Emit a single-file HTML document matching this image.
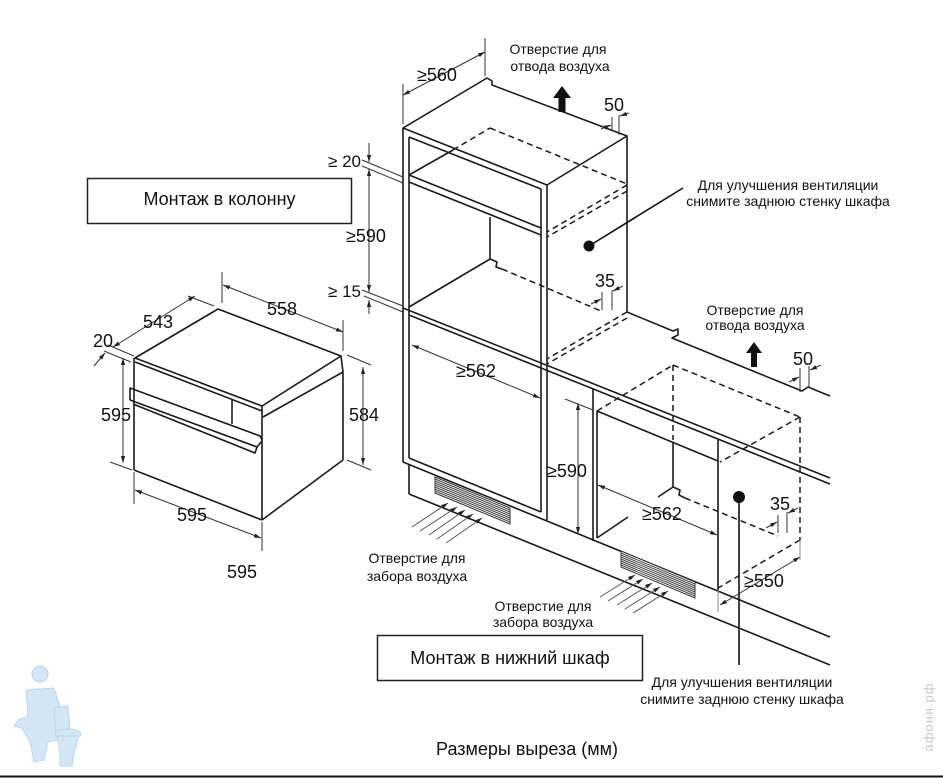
<!DOCTYPE html>
<html><head><meta charset="utf-8">
<style>
html,body{margin:0;padding:0;background:#fff;}
svg{display:block;}
text{font-family:"Liberation Sans","DejaVu Sans",sans-serif;fill:#111;}
.n{font-size:18px;}
.s{font-size:14px;}
.b{font-size:18px;}
</style></head><body>
<svg width="943" height="778" viewBox="0 0 943 778" xmlns="http://www.w3.org/2000/svg">
<defs>
<marker id="a" viewBox="0 0 10 6" refX="10" refY="3" markerWidth="7" markerHeight="4.2" markerUnits="userSpaceOnUse" orient="auto-start-reverse"><path d="M0,0 L10,3 L0,6 z" fill="#222"/></marker>
</defs>

<!-- logo -->
<g fill="#d3e6f6" stroke="#bcd7ee" stroke-width="1">
<circle cx="40" cy="674" r="8"/>
<path d="M26,690 L54,688 L62,712 L58,740 L48,742 L44,760 L34,762 L30,742 L22,728 L14,726 L18,720 L28,716 Z"/>
<path d="M54,708 L68,706 L70,732 L56,734 Z"/>
<ellipse cx="68" cy="734" rx="13" ry="5"/>
<path d="M57,736 L79,736 L74,754 L72,766 L60,766 L60,752 Z"/>
</g>

<!-- watermark -->
<text x="0" y="0" transform="translate(933,717) rotate(-90)" text-anchor="middle" style="font-size:13px;fill:#c9c9c9;letter-spacing:1px">афоня.рф</text>

<!-- bottom line -->
<line x1="0" y1="776.5" x2="943" y2="776.5" stroke="#111" stroke-width="2"/>

<!-- boxes -->
<rect x="87.5" y="178.5" width="264" height="45" fill="none" stroke="#222" stroke-width="1.5"/>
<text class="b" x="219.5" y="205" text-anchor="middle">Монтаж в колонну</text>
<rect x="377.5" y="635.5" width="265" height="45" fill="none" stroke="#222" stroke-width="1.5"/>
<text class="b" x="510" y="664" text-anchor="middle">Монтаж в нижний шкаф</text>
<text class="b" x="527" y="755" text-anchor="middle">Размеры выреза (мм)</text>

<!-- ===== OVEN ===== -->
<g fill="none" stroke="#1a1a1a" stroke-width="1.6" stroke-linejoin="round">
<polygon points="135,358 218,309 341,356 262,406"/>
<line x1="135" y1="362" x2="262" y2="411"/>
<line x1="134" y1="358" x2="134" y2="470"/>
<line x1="134" y1="470" x2="262" y2="520"/>
<line x1="262" y1="406" x2="262" y2="520"/>
<line x1="263" y1="417" x2="343" y2="372"/>
<line x1="341" y1="356" x2="343" y2="372"/>
<line x1="343" y1="372" x2="343" y2="460"/>
<line x1="262" y1="520" x2="343" y2="460"/>
<polyline points="130,400 130,388 260,436 262,440"/>
<line x1="130" y1="400" x2="257" y2="447"/>
<polyline points="133,404 255,453 257,447 262,441"/>
<line x1="232" y1="400" x2="232" y2="424"/>
</g>
<g fill="none" stroke="#333" stroke-width="1">
<line x1="113" y1="347" x2="195" y2="296" marker-start="url(#a)" marker-end="url(#a)"/>
<line x1="214" y1="306" x2="188" y2="296"/>
<line x1="108" y1="345" x2="134" y2="356"/>
<line x1="104" y1="351" x2="131" y2="362"/>
<line x1="94" y1="366" x2="105" y2="353" marker-end="url(#a)"/>
<line x1="223" y1="285" x2="343" y2="332" marker-start="url(#a)" marker-end="url(#a)"/>
<line x1="222" y1="272" x2="222" y2="303"/>
<line x1="343" y1="320" x2="343" y2="351"/>
<line x1="123" y1="358" x2="123" y2="463" marker-start="url(#a)" marker-end="url(#a)"/>
<line x1="110" y1="462" x2="132" y2="470"/>
<line x1="363" y1="367" x2="363" y2="465" marker-start="url(#a)" marker-end="url(#a)"/>
<line x1="347" y1="355" x2="371" y2="365"/>
<line x1="347" y1="460" x2="371" y2="470"/>
<line x1="135" y1="490" x2="261" y2="538" marker-start="url(#a)" marker-end="url(#a)"/>
<line x1="134" y1="472" x2="134" y2="504"/>
<line x1="262" y1="522" x2="262" y2="551"/>
</g>
<text class="n" x="158" y="328" text-anchor="middle">543</text>
<text class="n" x="282" y="315" text-anchor="middle">558</text>
<text class="n" x="103" y="347" text-anchor="middle">20</text>
<text class="n" x="116" y="421" text-anchor="middle">595</text>
<text class="n" x="364" y="421" text-anchor="middle">584</text>
<text class="n" x="192" y="521" text-anchor="middle">595</text>
<text class="n" x="242" y="578" text-anchor="middle">595</text>

<!-- ===== COLUMN + BASE solid ===== -->
<g fill="none" stroke="#1a1a1a" stroke-width="1.6" stroke-linejoin="round">
<polygon points="403,128 487,78 492,81 492,85 627,136 547,185"/>
<line x1="409" y1="137" x2="541" y2="189"/>
<line x1="403" y1="128" x2="403" y2="462"/>
<line x1="409" y1="137" x2="409" y2="458"/>
<line x1="547" y1="185" x2="547" y2="520"/>
<line x1="541" y1="189" x2="541" y2="512"/>
<line x1="409" y1="458" x2="541" y2="512"/>
<line x1="403" y1="462" x2="830" y2="637"/>
<line x1="627" y1="136" x2="627" y2="312"/>
<line x1="409" y1="175" x2="541" y2="228"/>
<line x1="409" y1="182" x2="541" y2="235"/>
<line x1="409" y1="175" x2="453" y2="150"/>
<line x1="490" y1="217" x2="490" y2="259"/>
<polyline points="409,307 490,259 497,262 496,267 502,269"/>
<line x1="403" y1="308" x2="830" y2="478"/>
<line x1="409" y1="315" x2="830" y2="484"/>
<line x1="409" y1="464" x2="409" y2="494"/>
<line x1="409" y1="494" x2="830" y2="665"/>
<polyline points="627,312 673,331 678,329 678,335 672,338 802,391 808,387 830,396"/>
<line x1="593" y1="389" x2="593" y2="541"/>
<line x1="597" y1="411" x2="597" y2="538"/>
<line x1="597" y1="411" x2="718" y2="461"/>
<line x1="718" y1="440" x2="718" y2="590"/>
<line x1="673" y1="443" x2="673" y2="487"/>
<line x1="673" y1="487" x2="658" y2="497"/>
<line x1="628" y1="517" x2="597" y2="538"/>
<polyline points="673,487 680,490 679,495 685,498"/>
</g>

<!-- dashed -->
<g fill="none" stroke="#1a1a1a" stroke-width="1.5" stroke-dasharray="6 4">
<line x1="453" y1="150" x2="490" y2="128"/>
<line x1="490" y1="128" x2="627" y2="184"/>
<line x1="627" y1="185" x2="547" y2="232"/>
<line x1="627" y1="191" x2="547" y2="237"/>
<line x1="502" y1="269" x2="601" y2="311"/>
<line x1="627" y1="312" x2="547" y2="359"/>
<line x1="627" y1="318" x2="547" y2="364"/>
<line x1="597" y1="411" x2="673" y2="365"/>
<line x1="673" y1="365" x2="800" y2="417"/>
<line x1="673" y1="365" x2="673" y2="440"/>
<line x1="800" y1="417" x2="720" y2="462"/>
<line x1="800" y1="417" x2="800" y2="540"/>
<line x1="685" y1="498" x2="778" y2="536"/>
<line x1="800" y1="540" x2="718" y2="588"/>
</g>

<!-- grilles -->
<polygon points="435,477 510,508 510,524 435,493" fill="#fff" stroke="#333" stroke-width="1"/>
<g stroke="#444" stroke-width="1">
<line x1="435" y1="479" x2="510" y2="510"/><line x1="435" y1="481" x2="510" y2="512"/>
<line x1="435" y1="483" x2="510" y2="514"/><line x1="435" y1="485" x2="510" y2="516"/>
<line x1="435" y1="487" x2="510" y2="518"/><line x1="435" y1="489" x2="510" y2="520"/>
<line x1="435" y1="491" x2="510" y2="522"/>
</g>
<polygon points="621,551 695,582 695,598 621,567" fill="#fff" stroke="#333" stroke-width="1"/>
<g stroke="#444" stroke-width="1">
<line x1="621" y1="553" x2="695" y2="584"/><line x1="621" y1="555" x2="695" y2="586"/>
<line x1="621" y1="557" x2="695" y2="588"/><line x1="621" y1="559" x2="695" y2="590"/>
<line x1="621" y1="561" x2="695" y2="592"/><line x1="621" y1="563" x2="695" y2="594"/>
<line x1="621" y1="565" x2="695" y2="596"/>
</g>

<!-- air inflow arrows -->
<g stroke="#555" stroke-width="1" fill="none">
<line x1="412" y1="527" x2="448" y2="503" marker-end="url(#a)"/>
<line x1="420" y1="531" x2="457" y2="507" marker-end="url(#a)"/>
<line x1="429" y1="535" x2="465" y2="510" marker-end="url(#a)"/>
<line x1="437" y1="539" x2="473" y2="514" marker-end="url(#a)"/>
<line x1="446" y1="543" x2="482" y2="518" marker-end="url(#a)"/>
<line x1="600" y1="597" x2="635" y2="575" marker-end="url(#a)"/>
<line x1="608" y1="601" x2="643" y2="579" marker-end="url(#a)"/>
<line x1="617" y1="605" x2="652" y2="583" marker-end="url(#a)"/>
<line x1="625" y1="609" x2="660" y2="587" marker-end="url(#a)"/>
<line x1="633" y1="613" x2="668" y2="591" marker-end="url(#a)"/>
</g>

<!-- outflow arrows -->
<polygon points="562,86 571,98 565.5,98 565.5,112 558.5,112 558.5,98 553,98" fill="#111"/>
<polygon points="754,342 762,353 757,353 757,367 751,367 751,353 746,353" fill="#111"/>

<!-- dims column/base -->
<g fill="none" stroke="#333" stroke-width="1">
<line x1="403" y1="95" x2="485" y2="52" marker-start="url(#a)" marker-end="url(#a)"/>
<line x1="403" y1="84" x2="403" y2="124"/>
<line x1="485" y1="38" x2="485" y2="76"/>
<line x1="369" y1="143" x2="369" y2="162" marker-end="url(#a)"/>
<line x1="369" y1="169" x2="369" y2="292" marker-start="url(#a)" marker-end="url(#a)"/>
<line x1="369" y1="314" x2="369" y2="300" marker-end="url(#a)"/>
<line x1="362" y1="160" x2="403" y2="177"/>
<line x1="362" y1="166" x2="403" y2="183"/>
<line x1="362" y1="290" x2="403" y2="306"/>
<line x1="364" y1="296" x2="403" y2="312"/>
<line x1="612" y1="117" x2="612" y2="131"/>
<line x1="619" y1="115" x2="619" y2="135"/>
<line x1="601" y1="129" x2="611" y2="125" marker-end="url(#a)"/>
<line x1="629" y1="113" x2="620" y2="116" marker-end="url(#a)"/>
<line x1="602" y1="292" x2="602" y2="310"/>
<line x1="612" y1="290" x2="612" y2="310"/>
<line x1="591" y1="304" x2="601" y2="299" marker-end="url(#a)"/>
<line x1="623" y1="286" x2="613" y2="291" marker-end="url(#a)"/>
<line x1="412" y1="345" x2="540" y2="398" marker-start="url(#a)" marker-end="url(#a)"/>
<line x1="578" y1="403" x2="578" y2="534" marker-start="url(#a)" marker-end="url(#a)"/>
<line x1="565" y1="399" x2="593" y2="410"/>
<line x1="598" y1="485" x2="717" y2="535" marker-start="url(#a)" marker-end="url(#a)"/>
<line x1="778" y1="515" x2="778" y2="533"/>
<line x1="787" y1="512" x2="787" y2="533"/>
<line x1="766" y1="528" x2="777" y2="522" marker-end="url(#a)"/>
<line x1="798" y1="508" x2="788" y2="513" marker-end="url(#a)"/>
<line x1="800" y1="368" x2="800" y2="392"/>
<line x1="809" y1="366" x2="809" y2="388"/>
<line x1="789" y1="382" x2="799" y2="377" marker-end="url(#a)"/>
<line x1="821" y1="365" x2="810" y2="370" marker-end="url(#a)"/>
<line x1="720" y1="605" x2="800" y2="557" marker-start="url(#a)" marker-end="url(#a)"/>
<line x1="718" y1="590" x2="718" y2="612" stroke="#888"/>
<line x1="800" y1="540" x2="800" y2="560" stroke="#888"/>
</g>

<!-- dots & leaders -->
<line x1="589" y1="246" x2="683" y2="188" stroke="#111" stroke-width="1.6"/>
<circle cx="589" cy="246" r="5.5" fill="#111"/>
<line x1="739" y1="497" x2="739" y2="665" stroke="#111" stroke-width="1.6"/>
<circle cx="739" cy="497" r="6" fill="#111"/>

<!-- labels -->
<text class="n" x="437" y="81" text-anchor="middle">≥560</text>
<text class="n" x="614" y="111" text-anchor="middle">50</text>
<text class="n" style="font-size:17px" x="361" y="167" text-anchor="end">≥ 20</text>
<text class="n" x="366" y="242" text-anchor="middle">≥590</text>
<text class="n" style="font-size:17px" x="361" y="297" text-anchor="end">≥ 15</text>
<text class="n" x="605" y="287" text-anchor="middle">35</text>
<text class="n" x="476" y="377" text-anchor="middle">≥562</text>
<text class="n" x="567" y="477" text-anchor="middle">≥590</text>
<text class="n" x="662" y="520" text-anchor="middle">≥562</text>
<text class="n" x="780" y="510" text-anchor="middle">35</text>
<text class="n" x="764" y="587" text-anchor="middle">≥550</text>
<text class="n" x="803" y="365" text-anchor="middle">50</text>

<text class="s" x="558" y="54" text-anchor="middle">Отверстие для</text>
<text class="s" x="560" y="71" text-anchor="middle">отвода воздуха</text>
<text class="s" x="755" y="315" text-anchor="middle">Отверстие для</text>
<text class="s" x="755" y="330" text-anchor="middle">отвода воздуха</text>
<text class="s" x="788" y="190" text-anchor="middle">Для улучшения вентиляции</text>
<text class="s" x="788" y="206" text-anchor="middle">снимите заднюю стенку шкафа</text>
<text class="s" x="417" y="563" text-anchor="middle">Отверстие для</text>
<text class="s" x="417" y="581" text-anchor="middle">забора воздуха</text>
<text class="s" x="543" y="611" text-anchor="middle">Отверстие для</text>
<text class="s" x="543" y="627" text-anchor="middle">забора воздуха</text>
<text class="s" x="742" y="687" text-anchor="middle">Для улучшения вентиляции</text>
<text class="s" x="742" y="704" text-anchor="middle">снимите заднюю стенку шкафа</text>
</svg>
</body></html>
